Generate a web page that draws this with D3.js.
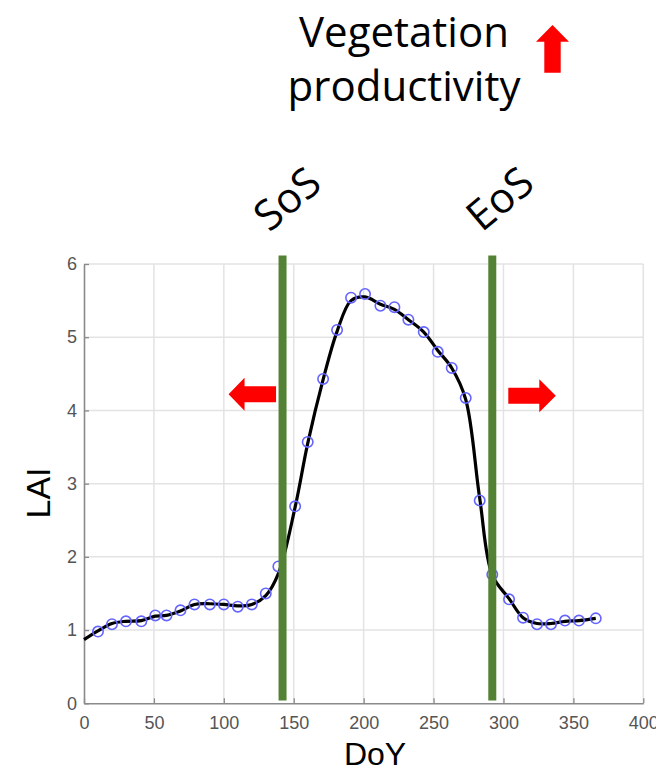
<!DOCTYPE html>
<html>
<head>
<meta charset="utf-8">
<script src="https://cdn.jsdelivr.net/npm/d3@7"></script>
<style>
  html, body { margin: 0; padding: 0; background: #ffffff; }
  svg { display: block; }
</style>
</head>
<body>
<svg id="chart" width="656" height="772"></svg>
<script>
// Observed LAI samples (roughly every 10 days)
const obsDoY = [10, 20, 30, 41, 51, 59, 69, 79, 90, 100, 110, 120, 130, 139, 151,
                160, 171, 181, 191, 201, 212, 222, 232, 243, 253, 263, 273, 283,
                292, 304, 314, 324, 334, 344, 354, 366];
const obsLAI = [0.98, 1.08, 1.12, 1.12, 1.20, 1.20, 1.27, 1.35, 1.35, 1.35, 1.32, 1.35, 1.50, 1.87, 2.69,
                3.57, 4.43, 5.10, 5.54, 5.59, 5.43, 5.41, 5.24, 5.07, 4.80, 4.58, 4.17, 2.77,
                1.76, 1.42, 1.17, 1.08, 1.08, 1.13, 1.13, 1.16];

// Smoothed seasonal trajectory
const fitDoY = [0, 10, 20, 30, 41, 51, 59, 69, 79, 90, 100, 110, 120, 130, 139, 151,
                160, 171, 181, 191, 201, 212, 222, 232, 243, 253, 263, 273, 283,
                292, 304, 314, 324, 334, 344, 354, 366];
const fitLAI = [0.87, 0.99, 1.09, 1.12, 1.13, 1.19, 1.20, 1.26, 1.35, 1.36, 1.35, 1.33, 1.35, 1.47, 1.77, 2.68,
                3.55, 4.42, 5.08, 5.50, 5.55, 5.45, 5.38, 5.24, 5.07, 4.82, 4.58, 4.15, 2.80,
                1.75, 1.43, 1.17, 1.09, 1.09, 1.12, 1.13, 1.16];

// Phenology markers: start and end of season
const sosDoY = 142;
const eosDoY = 292;

const xTicks = [0, 50, 100, 150, 200, 250, 300, 350, 400];
const yTicks = [0, 1, 2, 3, 4, 5, 6];

const svg = d3.select("#chart");

const x = d3.scaleLinear().domain([0, 400]).range([84, 643.3]);
const y = d3.scaleLinear().domain([0, 6]).range([703.3, 264]);

const tickFont = "'Liberation Sans', Arial, sans-serif";
const bigFont = "'Open Sans', 'Noto Sans', sans-serif";

// Grid
const grid = svg.append("g").attr("stroke", "#e3e3e3").attr("stroke-width", 1.5);
grid.selectAll("line.gx").data(xTicks.slice(1)).join("line")
  .attr("x1", d => x(d)).attr("x2", d => x(d))
  .attr("y1", y(0)).attr("y2", y(6));
grid.selectAll("line.gy").data(yTicks.slice(1)).join("line")
  .attr("x1", x(0)).attr("x2", x(400))
  .attr("y1", d => y(d)).attr("y2", d => y(d));

// Axes (inward ticks, integer labels)
const xAxis = d3.axisBottom(x).tickValues(xTicks).tickFormat(d3.format("d"))
  .tickSizeInner(-5).tickSizeOuter(0).tickPadding(13);
const yAxis = d3.axisLeft(y).tickValues(yTicks).tickFormat(d3.format("d"))
  .tickSizeInner(-5).tickSizeOuter(0).tickPadding(7);

const gx = svg.append("g").attr("transform", `translate(0,${y(0)})`).call(xAxis);
const gy = svg.append("g").attr("transform", `translate(${x(0)},0)`).call(yAxis);

[gx, gy].forEach(g => {
  g.attr("font-size", null).attr("font-family", null);
  g.select(".domain").attr("stroke", "#8a8a8a").attr("stroke-width", 1.6);
  g.selectAll(".tick line").attr("stroke", "#8a8a8a").attr("stroke-width", 1.3);
  g.selectAll(".tick text")
    .attr("fill", "#555555")
    .style("font-family", tickFont)
    .style("font-size", "18px");
});

// Smoothed curve
const line = d3.line()
  .x(d => x(d[0]))
  .y(d => y(d[1]))
  .curve(d3.curveCatmullRom.alpha(0.5));

svg.append("path")
  .datum(fitDoY.map((d, i) => [d, fitLAI[i]]))
  .attr("d", line)
  .attr("fill", "none")
  .attr("stroke", "#000000")
  .attr("stroke-width", 3.2)
  .attr("stroke-linejoin", "round");

// Observation markers
svg.append("g").selectAll("circle")
  .data(obsDoY.map((d, i) => [d, obsLAI[i]]))
  .join("circle")
  .attr("cx", d => x(d[0]))
  .attr("cy", d => y(d[1]))
  .attr("r", 5.2)
  .attr("fill", "none")
  .attr("stroke", "#6464ff")
  .attr("stroke-width", 1.6);

// SoS / EoS bars
svg.append("g").selectAll("rect")
  .data([sosDoY, eosDoY])
  .join("rect")
  .attr("x", d => x(d) - 4)
  .attr("y", 255.5)
  .attr("width", 8)
  .attr("height", 445)
  .attr("fill", "#548235");

// Rotated labels for the markers
svg.append("g").selectAll("text")
  .data([{ t: "SoS", d: sosDoY, dx: 14 }, { t: "EoS", d: eosDoY, dx: 17 }])
  .join("text")
  .attr("transform", d => `translate(${x(d.d) + d.dx},${210}) rotate(-40)`)
  .attr("text-anchor", "middle")
  .attr("font-family", bigFont)
  .attr("font-size", 42)
  .attr("fill", "#000")
  .text(d => d.t);

// Arrows
const arrowH = (xs, xb, xt, yc) => {
  // xs: tail end, xb: head base, xt: tip
  return `M${xs},${yc - 8}L${xb},${yc - 8}L${xb},${yc - 16.5}L${xt},${yc}L${xb},${yc + 16.5}L${xb},${yc + 8}L${xs},${yc + 8}Z`;
};
const yArrow = y(4.22);
svg.append("path").attr("d", arrowH(x(sosDoY) - 6.5, x(sosDoY) - 38, x(sosDoY) - 54, yArrow)).attr("fill", "#ff0000");
svg.append("path").attr("d", arrowH(x(eosDoY) + 16, x(eosDoY) + 47, x(eosDoY) + 63.5, yArrow + 1.5)).attr("fill", "#ff0000");

// Upward arrow next to the headline
svg.append("path")
  .attr("d", "M544.3,72.7L544.3,41.7L536,41.7L552.5,25L569,41.7L560.7,41.7L560.7,72.7Z")
  .attr("fill", "#ff0000");

// Headline
svg.append("text")
  .attr("x", 404).attr("y", 47)
  .attr("text-anchor", "middle")
  .attr("font-family", bigFont).attr("font-size", 42)
  .text("Vegetation");
svg.append("text")
  .attr("x", 404).attr("y", 101)
  .attr("text-anchor", "middle")
  .attr("font-family", bigFont).attr("font-size", 42)
  .text("productivity");

// Axis titles
svg.append("text")
  .attr("x", 375).attr("y", 765)
  .attr("text-anchor", "middle")
  .attr("font-family", tickFont).attr("font-size", 32)
  .text("DoY");
svg.append("text")
  .attr("transform", `translate(50,493) rotate(-90)`)
  .attr("text-anchor", "middle")
  .attr("font-family", tickFont).attr("font-size", 34)
  .text("LAI");
</script>
</body>
</html>
